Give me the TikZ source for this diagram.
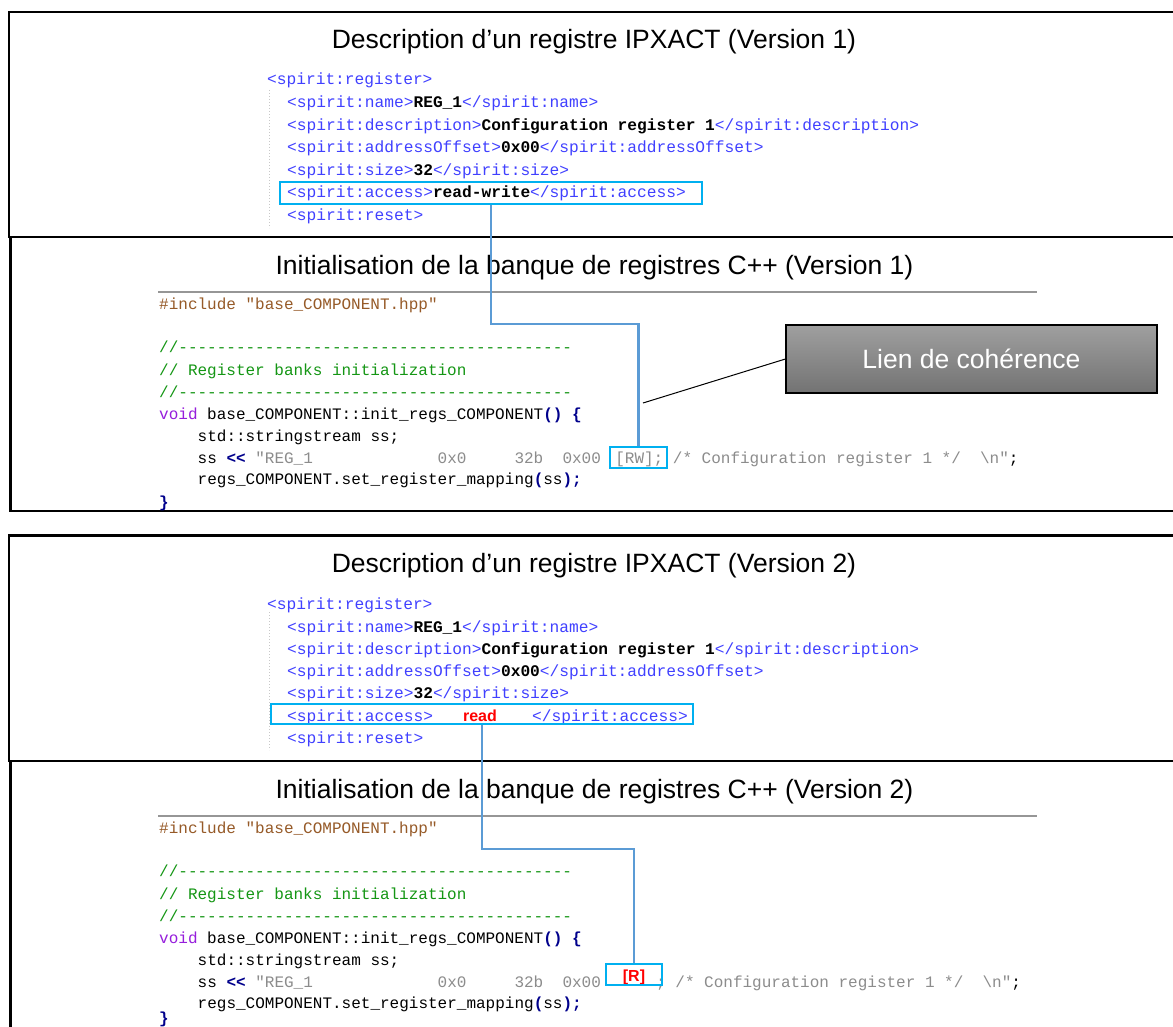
\documentclass[tikz,border=0pt]{standalone}
\usepackage{fontspec}
\setmainfont{Liberation Sans}
\setmonofont{Liberation Mono}

\definecolor{xmlblue}{RGB}{64,64,255}
\definecolor{hlcyan}{RGB}{0,176,240}
\definecolor{linkblue}{RGB}{91,155,213}
\definecolor{cinclude}{RGB}{150,90,40}
\definecolor{ccomment}{RGB}{20,150,20}
\definecolor{cvoid}{RGB}{150,30,220}
\definecolor{navy}{RGB}{0,0,140}
\definecolor{strgray}{RGB}{140,140,140}
\definecolor{guidegray}{RGB}{200,200,200}
\definecolor{sepgray}{RGB}{150,150,150}

\newcommand{\xval}[1]{{\color{black}\bfseries #1}}
\newcommand{\op}[1]{{\color{navy}\bfseries #1}}
\newcommand{\blanks}[1]{\hspace*{#1\dimexpr 0.6em\relax}}

\begin{document}
\begin{tikzpicture}[x=1pt,y=-1pt,
    panel/.style={line width=2.4pt},
    heading/.style={anchor=base,inner sep=0,font=\fontsize{26.5}{30}\selectfont},
    xml/.style={anchor=base west,inner sep=0,text=xmlblue,font=\fontsize{16.2}{20}\selectfont\ttfamily},
    cpp/.style={anchor=base west,inner sep=0,font=\fontsize{16}{20}\selectfont\ttfamily},
    redtxt/.style={anchor=base,inner sep=0,text=red,font=\fontsize{16}{18}\selectfont\bfseries},
    hlbox/.style={draw=hlcyan,line width=1.8pt,inner sep=0},
    link/.style={draw=linkblue,line width=2.2pt},
    guide/.style={draw=guidegray,dotted,line width=1pt},
    sepline/.style={draw=sepgray,line width=2pt},
    lienbox/.style={draw=black,line width=1.2pt,top color=gray!75,bottom color=black!55,
        text=white,minimum width=371pt,minimum height=68pt,font=\fontsize{26.5}{30}\selectfont}]
    \useasboundingbox (0,0) rectangle (1173,1027);
    \fill[white] (0,0) rectangle (1173,1027);
    \clip (0,0) rectangle (1173,1027);

    \draw[panel] (9,12) rectangle (1190,237);
    \draw[panel] (10.5,237) rectangle (1190,511);
    \node[heading] (t1) at (594,49) {Description d’un registre IPXACT (Version 1)};
    \draw[guide] (269,90) -- (269,228);
    \node[xml] (xreg1) at (267,85) {<spirit:register>};
    \node[xml] (xname1) at (287,108) {<spirit:name>\xval{REG\_1}</spirit:name>};
    \node[xml] (xdesc1) at (287,131) {<spirit:description>\xval{Configuration register 1}</spirit:description>};
    \node[xml] (xaddr1) at (287,153) {<spirit:addressOffset>\xval{0x00}</spirit:addressOffset>};
    \node[xml] (xsize1) at (287,176) {<spirit:size>\xval{32}</spirit:size>};
    \node[xml] (xacc1) at (287,198) {<spirit:access>\xval{read-write}</spirit:access>};
    \node[xml] (xreset1) at (287,221) {<spirit:reset>};

    \node[heading] (t2) at (594.5,274) {Initialisation de la banque de registres C++ (Version 1)};
    \draw[sepline] (158,292) -- (1037,292);
    \node[cpp,text=cinclude] (cinc1) at (159,309) {\#include "base\_COMPONENT.hpp"};
    \node[cpp,text=ccomment] (cdasha1) at (159,352) {//-----------------------------------------};
    \node[cpp,text=ccomment] (crem1) at (159,375) {// Register banks initialization};
    \node[cpp,text=ccomment] (cdashb1) at (159,397) {//-----------------------------------------};
    \node[cpp] (cvoid1) at (159,419) {{\color{cvoid}void} base\_COMPONENT::init\_regs\_COMPONENT\op{() \{}};
    \node[cpp] (cstd1) at (197.5,441) {std::stringstream ss;};
    \node[cpp] (css1) at (197.5,463) {ss \op{<<} {\color{strgray}"REG\_1\blanks{13}0x0\blanks{5}32b\blanks{2}0x00\blanks{1.5}[RW]; /* Configuration register 1 */\blanks{2}\textbackslash n"};};
    \node[cpp] (cregs1) at (197.5,484) {regs\_COMPONENT.set\_register\_mapping\op{(}ss\op{);}};
    \node[cpp,text=navy] (cend1) at (159,507) {\bfseries\}};

    \node[hlbox,minimum width=422pt,minimum height=22pt] (acc1) at (491,193) {};
    \node[hlbox,minimum width=57pt,minimum height=21pt] (rw1) at (638.5,457.5) {};
    \draw[link] (acc1.south) -- ++(0,119) -| (rw1.north);

    \node[lienbox] (lien) at (971.5,359) {Lien de cohérence};
    \coordinate (tip) at (643,403);
    \draw[line width=1pt] (lien.west) -- (tip);

    \draw[panel] (9,535.5) rectangle (1190,761);
    \draw[panel] (10.5,761) rectangle (1190,1060);
    \node[heading] (t3) at (594,572) {Description d’un registre IPXACT (Version 2)};
    \draw[guide] (269,612) -- (269,750);
    \node[xml] (xreg2) at (267,609) {<spirit:register>};
    \node[xml] (xname2) at (287,632) {<spirit:name>\xval{REG\_1}</spirit:name>};
    \node[xml] (xdesc2) at (287,654) {<spirit:description>\xval{Configuration register 1}</spirit:description>};
    \node[xml] (xaddr2) at (287,676) {<spirit:addressOffset>\xval{0x00}</spirit:addressOffset>};
    \node[xml] (xsize2) at (287,698) {<spirit:size>\xval{32}</spirit:size>};
    \node[xml] (xacc2) at (287,721) {<spirit:access>};
    \node[redtxt] (read2) at (480,721) {read};
    \node[xml] (xaccend2) at (532,721) {</spirit:access>};
    \node[xml] (xreset2) at (287,743) {<spirit:reset>};

    \node[heading] (t4) at (594.5,798) {Initialisation de la banque de registres C++ (Version 2)};
    \draw[sepline] (158,816) -- (1037,816);
    \node[cpp,text=cinclude] (cinc2) at (159,833) {\#include "base\_COMPONENT.hpp"};
    \node[cpp,text=ccomment] (cdasha2) at (159,876) {//-----------------------------------------};
    \node[cpp,text=ccomment] (crem2) at (159,899) {// Register banks initialization};
    \node[cpp,text=ccomment] (cdashb2) at (159,921) {//-----------------------------------------};
    \node[cpp] (cvoid2) at (159,943) {{\color{cvoid}void} base\_COMPONENT::init\_regs\_COMPONENT\op{() \{}};
    \node[cpp] (cstd2) at (197.5,965) {std::stringstream ss;};
    \node[cpp] (css2) at (197.5,987) {ss \op{<<} {\color{strgray}"REG\_1\blanks{13}0x0\blanks{5}32b\blanks{2}0x00}};
    \node[cpp,text=strgray] (ctail2) at (656,987) {; /* Configuration register 1 */\blanks{2}\textbackslash n"{\color{black};}};
    \node[cpp] (cregs2) at (197.5,1008) {regs\_COMPONENT.set\_register\_mapping\op{(}ss\op{);}};
    \node[cpp,text=navy] (cend2) at (159,1023) {\bfseries\}};

    \node[hlbox,minimum width=422pt,minimum height=20pt] (acc2) at (482,714) {};
    \node[redtxt] (r2) at (634,981) {[R]};
    \node[hlbox,minimum width=56pt,minimum height=21pt] (rr2) at (634,974.5) {};
    \draw[link] (acc2.south) -- ++(0,124) -| (rr2.north);
\end{tikzpicture}
\end{document}
